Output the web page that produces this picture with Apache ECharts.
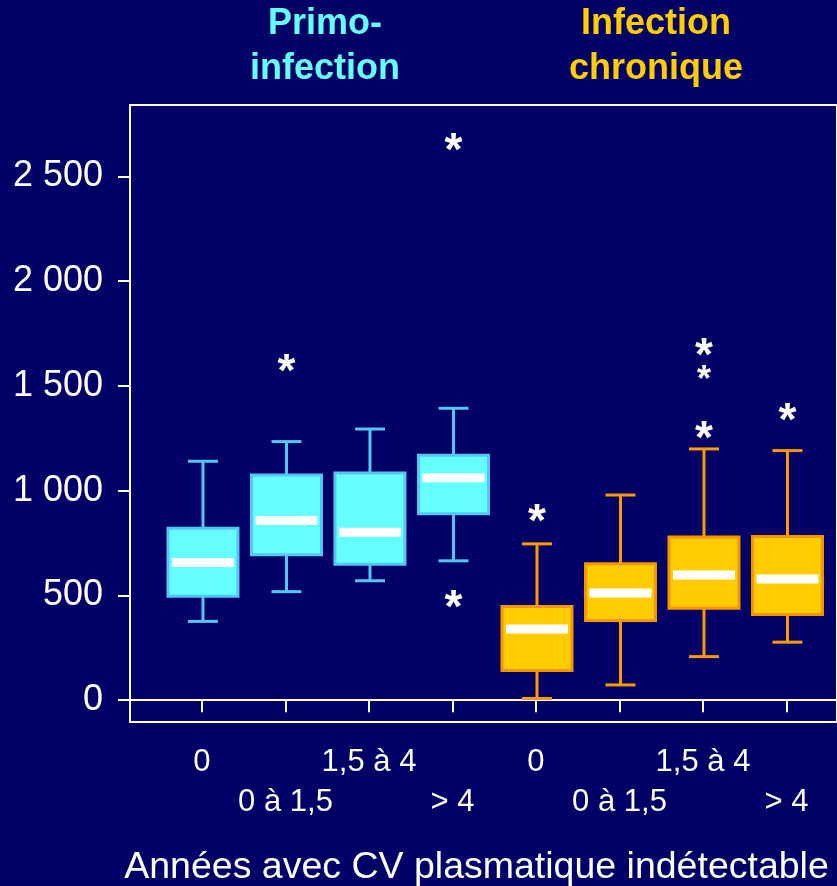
<!DOCTYPE html>
<html>
<head>
<meta charset="utf-8">
<script src="https://cdn.jsdelivr.net/npm/echarts@6/dist/echarts.min.js"></script>
<style>
html,body{margin:0;padding:0;background:#000066;}
#chart{width:837px;height:886px;}
</style>
</head>
<body>
<div id="chart"></div>
<script>
// ---- data ----
const categories = ['0', '0 à 1,5', '1,5 à 4', '> 4', '0', '0 à 1,5', '1,5 à 4', '> 4'];
const groupNames = ['Primo-\ninfection', 'Infection\nchronique'];
const xAxisTitle = 'Années avec CV plasmatique indétectable';
// [low whisker, Q1, median, Q3, high whisker]
const primoBoxes = [
  [376, 496, 657, 821, 1140],
  [518, 694, 858, 1074, 1234],
  [570, 649, 801, 1084, 1294],
  [665, 890, 1062, 1169, 1393]
];
const chronicBoxes = [
  [8, 142, 340, 447, 746],
  [73, 380, 512, 651, 979],
  [208, 439, 597, 779, 1199],
  [277, 409, 578, 781, 1191]
];
// outliers [category position, value]
const outliers = [[2, 1606], [4, 2664], [4, 483], [5, 894], [7, 1685], [7, 1290], [8, 1373]];
const smallOutliers = [[7, 1561]];
const yTickValues = [0, 500, 1000, 1500, 2000, 2500];
const yTickLabels = ['0', '500', '1 000', '1 500', '2 000', '2 500'];
const xTickValues = [1, 2, 3, 4, 5, 6, 7, 8];

// ---- styles ----
const FONT = '"Liberation Sans", Arial, Helvetica, sans-serif';
const primoStyle = { fill: '#66FFFF', stroke: '#55C6F2', whisker: '#55C6F2' };
const chronicStyle = { fill: '#FFCC00', stroke: '#F59500', whisker: '#FF9900' };

const primoData = primoBoxes.map((b, i) => [xTickValues[i]].concat(b));
const chronicData = chronicBoxes.map((b, i) => [xTickValues[i + 4]].concat(b));

function makeRender(st) {
  return function (params, api) {
    const x = api.value(0);
    const pLow = api.coord([x, api.value(1)]);
    const pQ1 = api.coord([x, api.value(2)]);
    const pMed = api.coord([x, api.value(3)]);
    const pQ3 = api.coord([x, api.value(4)]);
    const pHigh = api.coord([x, api.value(5)]);
    const cx = pLow[0] + 1;
    const bw = 70, cap = 30, mw = 62, mh = 9;
    const lineStyle = { stroke: st.whisker, lineWidth: 3 };
    return {
      type: 'group',
      children: [
        { type: 'line', shape: { x1: cx, y1: pLow[1], x2: cx, y2: pQ1[1] }, style: lineStyle },
        { type: 'line', shape: { x1: cx, y1: pQ3[1], x2: cx, y2: pHigh[1] }, style: lineStyle },
        { type: 'line', shape: { x1: cx - cap / 2, y1: pLow[1], x2: cx + cap / 2, y2: pLow[1] }, style: lineStyle },
        { type: 'line', shape: { x1: cx - cap / 2, y1: pHigh[1], x2: cx + cap / 2, y2: pHigh[1] }, style: lineStyle },
        { type: 'rect', shape: { x: cx - bw / 2, y: pQ3[1], width: bw, height: pQ1[1] - pQ3[1] },
          style: { fill: st.fill, stroke: st.stroke, lineWidth: 3 } },
        { type: 'rect', shape: { x: cx - mw / 2, y: pMed[1] - mh / 2, width: mw, height: mh },
          style: { fill: '#FFFFFF' } }
      ]
    };
  };
}

const starLabel = function (size, dy) {
  return {
    show: true, position: 'inside', formatter: '*', color: '#FFFFFF',
    fontFamily: FONT, fontWeight: 'bold', fontSize: size, offset: [1, dy],
    textBorderWidth: 0, opacity: 1
  };
};

const chart = echarts.init(document.getElementById('chart'), null, { renderer: 'canvas' });
const option = {
  backgroundColor: '#000066',
  animation: false,
  grid: {
    left: 130, top: 105, right: 0, bottom: 164,
    outerBoundsMode: 'none', containLabel: false,
    show: true, borderColor: '#FFFFFF', borderWidth: 2, backgroundColor: 'transparent'
  },
  xAxis: {
    type: 'value',
    min: 0.138, max: 8.605,
    splitLine: { show: false },
    axisLine: { show: true, lineStyle: { color: '#FFFFFF', width: 2 } },
    axisTick: { show: true, customValues: xTickValues, length: 12, lineStyle: { color: '#FFFFFF', width: 2 } },
    axisLabel: {
      customValues: xTickValues,
      margin: 20,
      color: '#FFFFFF',
      fontFamily: FONT,
      fontSize: 31,
      lineHeight: 40,
      formatter: function (v) {
        const i = Math.round(v) - 1;
        return i % 2 === 0 ? categories[i] : '\n' + categories[i];
      }
    },
    name: xAxisTitle,
    nameLocation: 'middle',
    nameGap: 127,
    nameTextStyle: { color: '#FFFFFF', fontFamily: FONT, fontSize: 37.5, padding: [0, 14, 0, 0], verticalAlign: 'top' }
  },
  yAxis: {
    type: 'value',
    min: -104, max: 2840,
    splitLine: { show: false },
    axisLine: { show: true, lineStyle: { color: '#FFFFFF', width: 2 } },
    axisTick: { show: true, customValues: yTickValues, length: 12, lineStyle: { color: '#FFFFFF', width: 2 } },
    axisLabel: {
      customValues: yTickValues,
      margin: 27,
      color: '#FFFFFF',
      fontFamily: FONT,
      fontSize: 36,
      formatter: function (v) {
        const i = yTickValues.indexOf(Math.round(v));
        return i >= 0 ? yTickLabels[i] : '';
      }
    }
  },
  graphic: [
    { type: 'text', x: 325, y: 2, style: { text: groupNames[0], fill: '#66FFFF', fontFamily: FONT, fontWeight: 'bold', fontSize: 36, lineHeight: 45, align: 'center', textAlign: 'center', verticalAlign: 'top' } },
    { type: 'text', x: 656, y: 2, style: { text: groupNames[1], fill: '#FFCC00', fontFamily: FONT, fontWeight: 'bold', fontSize: 36, lineHeight: 45, align: 'center', textAlign: 'center', verticalAlign: 'top' } }
  ],
  series: [
    { type: 'custom', name: 'Primo-infection', data: primoData, renderItem: makeRender(primoStyle), encode: { x: 0, y: [1, 2, 3, 4, 5] } },
    { type: 'custom', name: 'Infection chronique', data: chronicData, renderItem: makeRender(chronicStyle), encode: { x: 0, y: [1, 2, 3, 4, 5] } },
    {
      type: 'scatter', data: outliers, symbolSize: 1, itemStyle: { color: '#000066', opacity: 1 },
      label: starLabel(46, 10), emphasis: { disabled: true }
    },
    {
      type: 'scatter', data: smallOutliers, symbolSize: 1, itemStyle: { color: '#000066', opacity: 1 },
      label: starLabel(36, 8), emphasis: { disabled: true }
    }
  ]
};
chart.setOption(option);
</script>
</body>
</html>
